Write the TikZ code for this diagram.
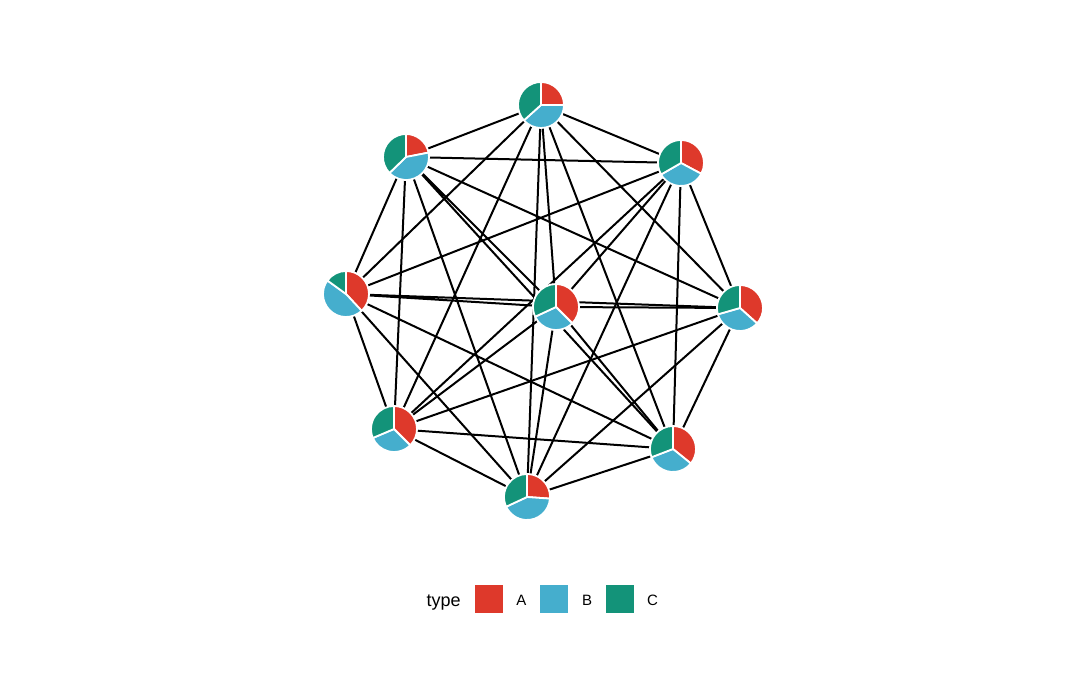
\documentclass[tikz,border=0pt]{standalone}
\usepackage{fontspec}
\setmainfont{Liberation Sans}
\usepackage{tikz}
\definecolor{typeA}{HTML}{DE392B}
\definecolor{typeB}{HTML}{45AECD}
\definecolor{typeC}{HTML}{139379}

% pie at a named point: A from 12 o'clock to #2, B from #2 to #3, C back to 12 o'clock
\newcommand{\pieat}[3]{%
  \filldraw[fill=typeA,slice] (#1) -- ++(90:23) arc[start angle=90,end angle=#2,radius=23] -- cycle;
  \filldraw[fill=typeB,slice] (#1) -- ++(#2:23) arc[start angle=#2,end angle=#3,radius=23] -- cycle;
  \filldraw[fill=typeC,slice] (#1) -- ++(#3:23) arc[start angle=#3,end angle=-270,radius=23] -- cycle;
}

\begin{document}
\begin{tikzpicture}[x=1pt,y=1pt,
  slice/.style={draw=white,line width=1.8pt,line join=round},
  edge/.style={line width=2pt,black},
  key/.style={minimum size=29pt,inner sep=0pt,draw=white,line width=0.6pt},
  keylabel/.style={font=\fontsize{15}{18}\selectfont,anchor=base}]
\fill[white] (0,0) rectangle (1080,686);
\useasboundingbox (0,0) rectangle (1080,686);
\coordinate (pTop) at (541,581);
\coordinate (pUL) at (406,529);
\coordinate (pUR) at (681,523);
\coordinate (pL) at (346,392);
\coordinate (pC) at (556,379);
\coordinate (pR) at (740,378);
\coordinate (pLL) at (394,257);
\coordinate (pLR) at (673,237);
\coordinate (pB) at (527,189);
% every pair of points is joined
\draw[edge] (pTop) -- (pUL) (pTop) -- (pUR) (pTop) -- (pL) (pTop) -- (pC)
  (pTop) -- (pR) (pTop) -- (pLL) (pTop) -- (pLR) (pTop) -- (pB);
\draw[edge] (pUL) -- (pUR) (pUL) -- (pL) (pUL) -- (pC) (pUL) -- (pR)
  (pUL) -- (pLL) (pUL) -- (pLR) (pUL) -- (pB);
\draw[edge] (pUR) -- (pL) (pUR) -- (pC) (pUR) -- (pR) (pUR) -- (pLL)
  (pUR) -- (pLR) (pUR) -- (pB);
\draw[edge] (pL) -- (pC) (pL) -- (pR) (pL) -- (pLL) (pL) -- (pLR) (pL) -- (pB);
\draw[edge] (pC) -- (pR) (pC) -- (pLL) (pC) -- (pLR) (pC) -- (pB);
\draw[edge] (pR) -- (pLL) (pR) -- (pLR) (pR) -- (pB);
\draw[edge] (pLL) -- (pLR) (pLL) -- (pB);
\draw[edge] (pLR) -- (pB);
% pies on top of the edges
\pieat{pTop}{0}{-138}
\pieat{pUL}{11}{-136}
\pieat{pUR}{-28}{-150}
\pieat{pL}{-47}{-216}
\pieat{pC}{-45}{-155}
\pieat{pR}{-42}{-164}
\pieat{pLL}{-45}{-157}
\pieat{pLR}{-39}{-159}
\pieat{pB}{-4}{-155}
% legend
\node[font=\fontsize{18}{21}\selectfont,anchor=base] (legTitle) at (443.7,79.5) {type};
\node[key,fill=typeA] (keyA) at (488.8,87.3) {};
\node[key,fill=typeB] (keyB) at (554,87.3) {};
\node[key,fill=typeC] (keyC) at (619.7,87.3) {};
\node[keylabel] (labA) at (521.3,80) {A};
\node[keylabel] (labB) at (587.2,80) {B};
\node[keylabel] (labC) at (652.5,80) {C};
\end{tikzpicture}
\end{document}
